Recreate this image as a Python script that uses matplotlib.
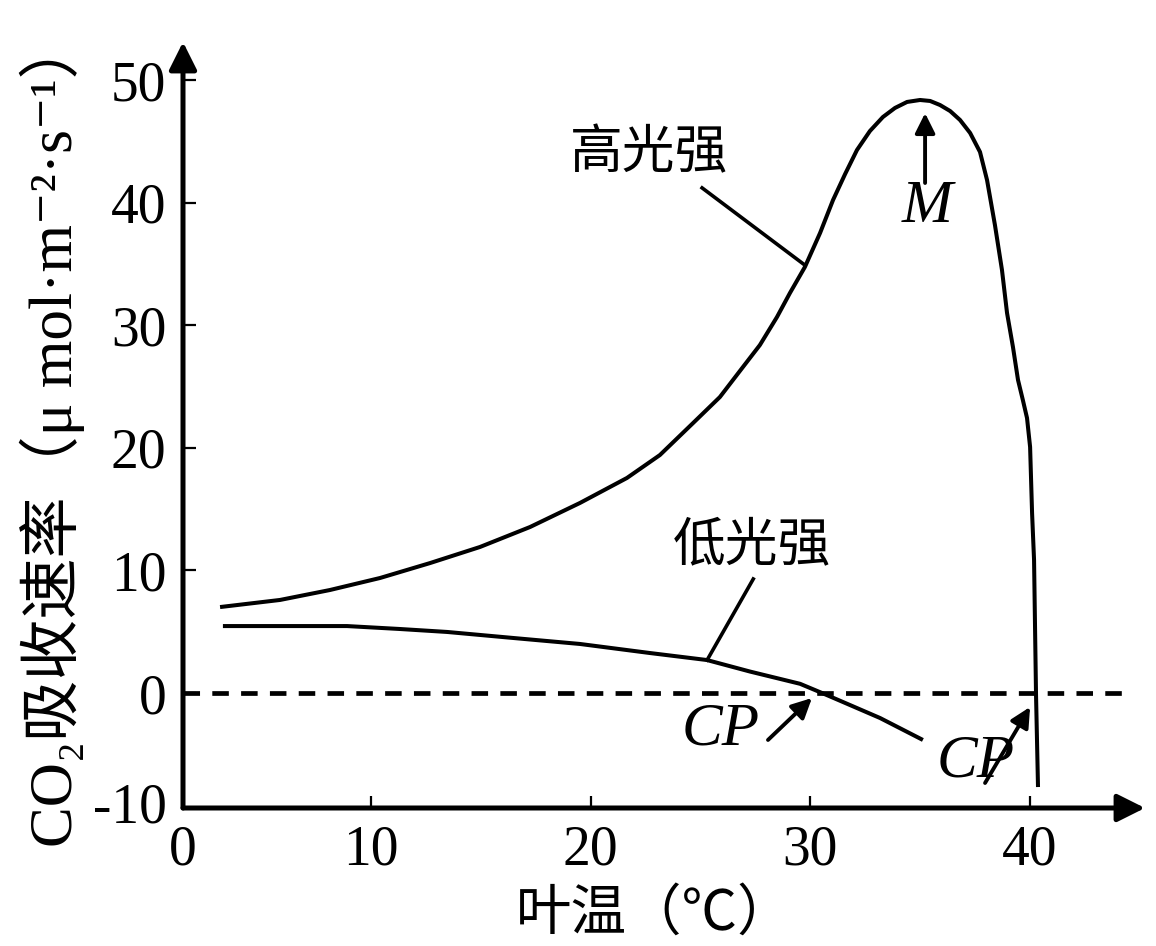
import matplotlib
matplotlib.use("Agg")
import matplotlib.pyplot as plt

plt.rcParams['font.family'] = ['Liberation Serif', 'Noto Sans CJK SC', 'DejaVu Serif']

# ---- data ----
high_x = [3.13, 5.86, 8.13, 10.41, 12.69, 14.96, 17.24, 19.51, 21.65, 23.15, 24.66,
          25.88, 26.93, 27.70, 28.48, 29.07, 29.75, 30.44, 31.03, 31.58, 32.12,
          32.71, 33.30, 33.85, 34.40, 34.99, 35.45, 35.90, 36.36, 36.81, 37.27,
          37.72, 38.04, 38.40, 38.72, 38.95, 39.22, 39.45, 39.67, 39.86, 40.00,
          40.09, 40.18, 40.22, 40.27, 40.36]
high_y = [7.01, 7.59, 8.40, 9.38, 10.60, 11.91, 13.54, 15.50, 17.54, 19.41, 22.02,
          24.14, 26.59, 28.38, 30.67, 32.63, 34.75, 37.52, 40.21, 42.33, 44.29,
          45.84, 46.98, 47.72, 48.21, 48.37, 48.29, 47.96, 47.47, 46.74, 45.68,
          44.13, 41.84, 38.17, 34.50, 31.00, 28.22, 25.53, 23.90, 22.43, 20.07,
          14.68, 10.85, 5.95, -0.16, -7.67]
low_x = [3.26, 6.09, 8.91, 11.32, 13.46, 16.46, 19.51, 22.70, 25.29, 27.25, 29.53,
         30.53, 31.80, 33.17, 35.12]
low_y = [5.46, 5.46, 5.46, 5.22, 4.98, 4.49, 4.00, 3.26, 2.69, 1.75, 0.75,
         0.00, -0.98, -2.04, -3.83]

x_ticks = [10, 20, 30, 40]
y_ticks = [0, 10, 20, 30, 40, 50]
x_origin_label = "0"
y_origin_label = "-10"
x_label = "叶温（℃）"
y_label = "CO₂吸收速率（μ mol·m⁻²·s⁻¹）"
label_high = "高光强"
label_low = "低光强"

W, H = 1156, 946
fig = plt.figure(figsize=(W / 100, H / 100), dpi=100)
ax = fig.add_axes([183 / W, (H - 808) / H, (1145 - 183) / W, (808 - 42) / H])
xlo, xhi = 1.443, 45.23
ylo, yhi = -9.38, 53.1
ax.set_xlim(xlo, xhi)
ax.set_ylim(ylo, yhi)

for s in ax.spines.values():
    s.set_visible(False)

# axes with arrows
arr = dict(arrowstyle='-|>', lw=3.6, color='black', mutation_scale=42,
           shrinkA=0, shrinkB=0)
ax.annotate('', xy=(0, 1), xytext=(0, 0), xycoords='axes fraction', arrowprops=arr)
ax.annotate('', xy=(1, 0), xytext=(0, 0), xycoords='axes fraction', arrowprops=arr)

tick_font = 40
ax.set_xticks(x_ticks)
ax.set_yticks(y_ticks)
ax.set_xticklabels([str(v) for v in x_ticks])
ax.set_yticklabels([str(v) for v in y_ticks])
ax.tick_params(direction='in', length=9, width=1.6, labelsize=tick_font, pad=12)

ax.text(0.0, -0.022, x_origin_label, transform=ax.transAxes, ha='center', va='top',
        fontsize=tick_font)
ax.text(-0.017, 0.0, y_origin_label, transform=ax.transAxes, ha='right', va='center',
        fontsize=tick_font)

# zero dashed line
ax.axhline(0, xmin=0, xmax=(1128 - 183) / (1145 - 183), color='black', lw=3.4,
           dashes=(3.5, 2.6))

# curves
ax.plot(high_x, high_y, color='black', lw=2.9, solid_joinstyle='round',
        solid_capstyle='butt')
ax.plot(low_x, low_y, color='black', lw=2.9, solid_joinstyle='round',
        solid_capstyle='butt')

# labels with leader lines
ax.text(22.65, 44.1, label_high, ha='center', va='center', fontsize=38,
        family=['Noto Sans CJK SC'])
ax.plot([25.07, 29.75], [41.2, 34.9], color='black', lw=2.6)
ax.text(27.35, 12.07, label_low, ha='center', va='center', fontsize=38,
        family=['Noto Sans CJK SC'])
ax.plot([27.4, 25.3], [9.3, 2.69], color='black', lw=2.6)

# M and CP annotations
small_arr = dict(arrowstyle='-|>', lw=2.8, color='black', mutation_scale=30,
                 shrinkA=0, shrinkB=0)
ax.annotate('', xy=(35.22, 47.3), xytext=(35.22, 41.6), arrowprops=small_arr)
ax.text(35.3, 39.6, 'M', ha='center', va='center', fontsize=44, style='italic')

ax.annotate('', xy=(30.07, -0.41), xytext=(28.07, -3.83), arrowprops=small_arr)
ax.text(25.9, -3.0, 'CP', ha='center', va='center', fontsize=44, style='italic')

ax.annotate('', xy=(40.0, -1.14), xytext=(37.95, -7.34), arrowprops=small_arr)
ax.text(37.5, -5.6, 'CP', ha='center', va='center', fontsize=44, style='italic')

# axis titles
fig.text(655 / W, 1 - 915 / H, x_label, ha='center', va='center', fontsize=40)
fig.text(52 / W, 1 - 432 / H, y_label, ha='center', va='center', fontsize=44,
         rotation=90)

fig.savefig('out.png', dpi=100, facecolor='white')
